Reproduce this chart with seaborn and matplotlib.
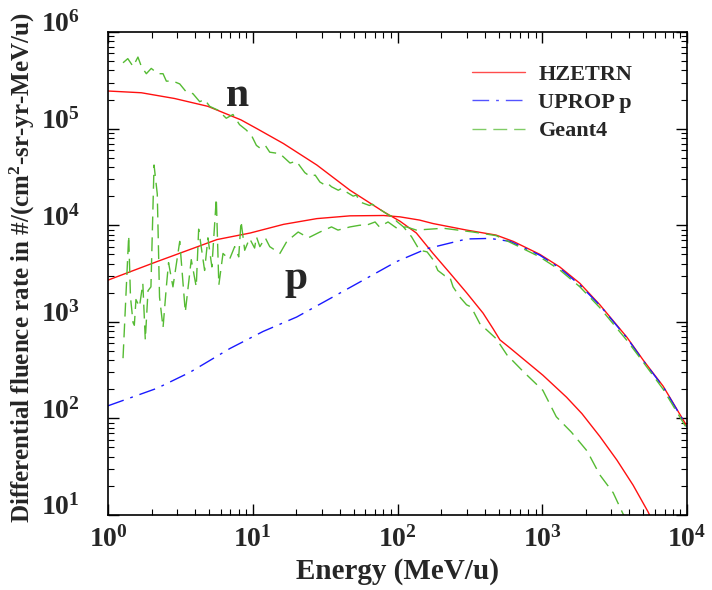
import matplotlib
matplotlib.use("Agg")

import matplotlib.pyplot as plt
import numpy as np
import pandas as pd
import seaborn as sns
from matplotlib.ticker import LogLocator, NullFormatter

# HZETRN neutron
hzetrn_n_energy = [1.0, 1.7, 2.88, 4.9, 8.3, 10.8, 16.3, 27.7, 47, 80, 104, 135, 176,
                   230, 300, 390, 457, 510, 595, 1010, 1470, 1880, 2500, 3280, 4240, 5380, 5700]
hzetrn_n_flux = [2.45e5, 2.35e5, 2.05e5, 1.7e5, 1.23e5, 9.9e4, 7.0e4, 4.2e4, 2.3e4, 1.38e4, 1.1e4,
                 8.3e3, 5.1e3, 3.2e3, 2.0e3, 1.23e3, 850, 650, 540, 280, 166, 112, 65, 37, 20.4, 10.8, 9.0]

# HZETRN proton
hzetrn_p_energy = [1.0, 2.18, 5.66, 9.6, 16.3, 27.7, 47, 80, 104, 142, 176, 300, 480, 630,
                   960, 1320, 1820, 2500, 3850, 4990, 6850, 9430, 10000]
hzetrn_p_flux = [2.7e3, 4.2e3, 7.1e3, 8.3e3, 1.02e4, 1.17e4, 1.25e4, 1.26e4, 1.22e4, 1.13e4, 1.04e4,
                 8.9e3, 7.9e3, 6.8e3, 5.0e3, 3.7e3, 2.5e3, 1.5e3, 690, 400, 215, 96, 83]

# UPROP proton
uprop_p_energy = [1.0, 2.18, 3.68, 6.97, 11.8, 20.1, 34.2, 58, 98.5, 159, 300, 435, 600, 960,
                  1320, 1820, 2500, 3850, 4990, 6850, 9430, 10000]
uprop_p_flux = [135, 205, 300, 530, 795, 1.12e3, 1.74e3, 2.7e3, 4.2e3, 5.7e3, 7.2e3, 7.3e3, 6.8e3,
                4.9e3, 3.6e3, 2.4e3, 1.48e3, 680, 395, 212, 95, 82]

# Geant4 neutron
geant4_n_energy = [1.27, 1.37, 1.49, 1.61, 1.70, 1.84, 1.99, 2.21, 2.40, 2.53, 2.81, 3.13, 3.47,
                   3.86, 4.30, 4.65, 5.04, 5.76, 6.56, 7.3, 8.1, 9.0, 9.8, 10.6, 11.2, 12.2, 13.1,
                   15.4, 18.1, 20, 22.9, 24.9, 27, 29.1, 31.6, 33, 35, 39, 41, 44.5, 49.4, 52, 55,
                   64, 67, 71, 80, 89, 94, 98.5, 110, 125, 142, 160, 176, 190,
                   212, 230, 242, 270, 300, 323, 370, 480, 570, 740, 1010, 1250, 1590, 2040, 2500,
                   3090, 3600, 3800]
geant4_n_flux = [4.8e5, 5.3e5, 4.4e5, 5.5e5, 4.4e5, 3.7e5, 4.2e5, 3.7e5, 3.7e5, 3.1e5, 3.1e5, 2.9e5,
                 2.4e5, 2.3e5, 1.9e5, 2.0e5, 1.7e5, 1.55e5, 1.28e5, 1.4e5, 1.1e5, 9.7e4, 8.5e4, 6.7e4,
                 6.3e4, 6.7e4, 5.7e4, 5.5e4, 4.4e4, 4.6e4, 3.5e4, 3.2e4, 3.3e4, 2.8e4, 2.6e4, 2.7e4,
                 2.5e4, 2.3e4, 2.4e4, 2.2e4, 2.0e4, 2.05e4, 1.74e4, 1.6e4, 1.65e4, 1.55e4, 1.38e4,
                 1.24e4, 1.26e4, 1.1e4, 9.6e3, 7.6e3, 5.5e3, 5.3e3, 4.4e3, 3.4e3, 3.0e3, 2.9e3, 2.3e3,
                 1.8e3, 1.5e3, 1.42e3, 960, 670, 455, 305, 195, 104, 72, 46, 26, 17, 10.4, 9.0]

# Geant4 proton
geant4_p_energy = [1.27, 1.39, 1.43, 1.49, 1.52, 1.56, 1.65, 1.74, 1.81, 1.89, 1.98, 2.08, 2.19,
                   2.27, 2.40, 2.53, 2.62, 2.81, 3.13, 3.42, 3.76, 4.07, 4.23, 4.65, 4.90, 5.22,
                   5.6, 5.83, 6.23, 6.9, 7.5, 8.0, 8.3, 8.8, 9.5, 10.3, 10.6, 11.2, 12.2, 13.1,
                   15.4, 17.2, 20.6, 24.2, 29.1, 35, 38.8, 47, 55, 61, 70, 75, 86, 99, 115, 135,
                   207, 333, 480, 660, 960, 1320, 1820, 2500, 3850, 5000, 6850, 10000]
geant4_p_flux = [420, 7.8e3, 1.8e3, 980, 920, 1.7e3, 1.43e3, 2.5e3, 650, 2.1e3, 2.3e3, 4.2e4, 2.1e4,
                 1.8e3, 870, 2.3e3, 4.1e3, 2.3e3, 6.8e3, 1.26e3, 4.4e3, 2.3e3, 9.1e3, 3.4e3, 7.4e3,
                 3.7e3, 1.9e4, 2.4e3, 5.1e3, 4.4e3, 6.0e3, 4.7e3, 1.1e4, 5.5e3, 7.3e3, 5.8e3, 7.6e3,
                 6.0e3, 7.4e3, 6.0e3, 5.1e3, 6.8e3, 8.5e3, 7.4e3, 8.5e3, 9.6e3, 8.9e3, 9.6e3, 1.0e4,
                 1.0e4, 1.08e4, 9.6e3, 1.08e4, 9.3e3, 9.6e3, 8.9e3, 9.3e3, 8.5e3, 7.8e3, 6.2e3, 4.7e3,
                 3.45e3, 2.3e3, 1.4e3, 640, 380, 200, 78]

x_ticks = [1, 10, 100, 1000, 10000]
x_tick_labels = ["$10^{0}$", "$10^{1}$", "$10^{2}$", "$10^{3}$", "$10^{4}$"]
y_ticks = [10, 100, 1e3, 1e4, 1e5, 1e6]
y_tick_labels = ["$10^{1}$", "$10^{2}$", "$10^{3}$", "$10^{4}$", "$10^{5}$", "$10^{6}$"]

sns.set_theme(style="ticks")
plt.rcParams["font.family"] = ["Liberation Serif", "DejaVu Serif"]
plt.rcParams["font.weight"] = "bold"
plt.rcParams["mathtext.fontset"] = "custom"
plt.rcParams["mathtext.rm"] = "Liberation Serif:bold"
plt.rcParams["mathtext.it"] = "Liberation Serif:bold"
plt.rcParams["mathtext.bf"] = "Liberation Serif:bold"
plt.rcParams["mathtext.default"] = "rm"

RED = "#ff1010"
BLUE = "#1a1aff"
GREEN = "#55bb33"

fig = plt.figure(figsize=(7.12, 5.90), dpi=100)
ax = fig.add_axes([108 / 712, 75 / 590, 579 / 712, 483 / 590])

series = [
    (hzetrn_n_energy, hzetrn_n_flux, RED, None, "HZETRN"),
    (hzetrn_p_energy, hzetrn_p_flux, RED, None, None),
    (uprop_p_energy, uprop_p_flux, BLUE, (12, 5, 2, 5), "UPROP p"),
    (geant4_n_energy, geant4_n_flux, GREEN, (10, 5), "Geant4"),
    (geant4_p_energy, geant4_p_flux, GREEN, (10, 5), None),
]

for energy, flux, color, dashes, label in series:
    df = pd.DataFrame({"energy": energy, "flux": flux})
    sns.lineplot(data=df, x="energy", y="flux", ax=ax, color=color,
                 estimator=None, sort=False, lw=1.0, label=label)
    line = ax.get_lines()[-1]
    if dashes is not None:
        line.set_dashes(dashes)

ax.set_xscale("log")
ax.set_yscale("log")
ax.set_xlim(1, 1e4)
ax.set_ylim(10, 1e6)

ax.xaxis.set_minor_locator(LogLocator(base=10, subs=np.arange(2, 10), numticks=50))
ax.yaxis.set_minor_locator(LogLocator(base=10, subs=np.arange(2, 10), numticks=50))
ax.xaxis.set_minor_formatter(NullFormatter())
ax.yaxis.set_minor_formatter(NullFormatter())
ax.set_xticks(x_ticks)
ax.set_xticklabels(x_tick_labels)
ax.set_yticks(y_ticks)
ax.set_yticklabels(y_tick_labels, va="baseline")

ax.tick_params(which="both", direction="in", top=True, right=True, color="black")
ax.tick_params(which="major", length=8, width=1.0, labelsize=20)
ax.tick_params(axis="x", which="major", pad=8)
ax.tick_params(axis="y", which="major", pad=20)
ax.tick_params(which="minor", length=4, width=0.8)
for spine in ax.spines.values():
    spine.set_linewidth(1.2)
    spine.set_color("black")

ax.set_xlabel("Energy (MeV/u)", fontsize=21, fontweight="bold", labelpad=4)
ax.set_ylabel("Differential fluence rate in #/(cm$^{2}$-sr-yr-MeV/u)", fontsize=18,
              fontweight="bold")
ax.yaxis.set_label_coords(-0.122, 0.512)

ax.text(7.8, 2.2e5, "n", fontsize=30, fontweight="bold", ha="center", va="center")
ax.text(20, 2.8e3, "p", fontsize=30, fontweight="bold", ha="center", va="center")

leg = ax.legend(loc="upper right", frameon=False, fontsize=16, handlelength=2.4,
                handletextpad=0.6, labelspacing=0.35, bbox_to_anchor=(0.94, 0.975))
for handle in leg.legend_handles:
    handle.set_alpha(0.75)

fig.savefig("out.png", dpi=100)
